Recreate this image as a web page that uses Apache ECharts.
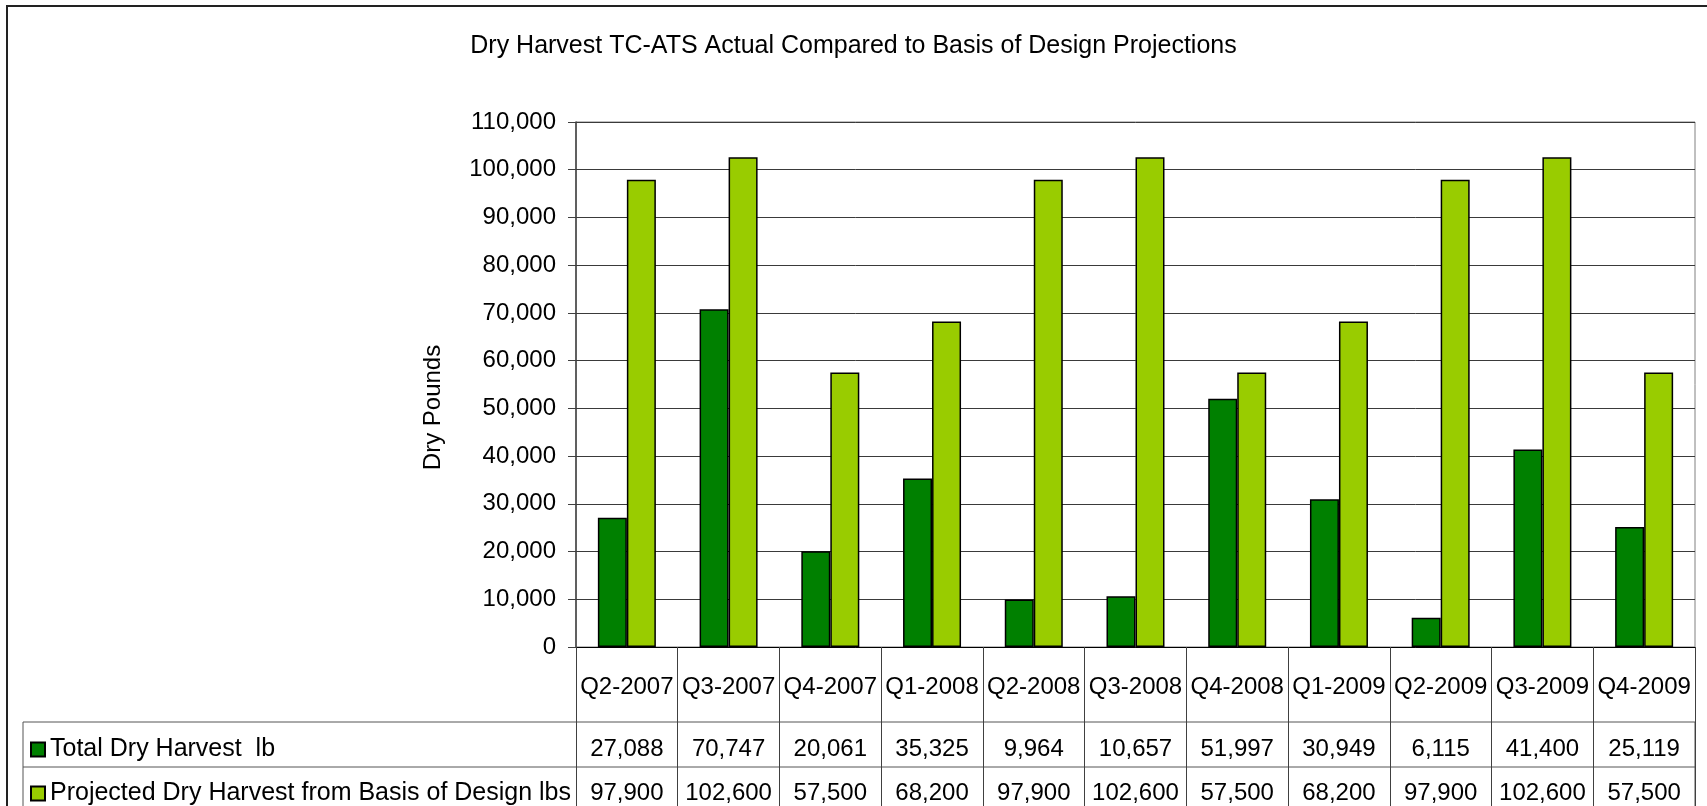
<!DOCTYPE html>
<html>
<head>
<meta charset="utf-8">
<title>Dry Harvest TC-ATS</title>
<script src="https://cdn.jsdelivr.net/npm/echarts@6/dist/echarts.min.js"></script>
<style>
  html, body { margin: 0; padding: 0; background: #fff; }
  #chart { width: 1707px; height: 806px; }
</style>
</head>
<body>
<div id="chart"></div>
<script>
  // quarters on the x axis
  const quarters = ['Q2-2007', 'Q3-2007', 'Q4-2007', 'Q1-2008', 'Q2-2008', 'Q3-2008',
    'Q4-2008', 'Q1-2009', 'Q2-2009', 'Q3-2009', 'Q4-2009'];
  // actual dry harvest, lb
  const actualHarvest = [27088, 70747, 20061, 35325, 9964, 10657, 51997, 30949, 6115, 41400, 25119];
  // basis of design projection, lbs
  const projectedHarvest = [97900, 102600, 57500, 68200, 97900, 102600, 57500, 68200, 97900, 102600, 57500];

  const actualName = 'Total Dry Harvest  lb';
  const projectedName = 'Projected Dry Harvest from Basis of Design lbs';

  const font = '"Liberation Sans", Arial, sans-serif';
  const fmt = (v) => v.toLocaleString('en-US');

  // one legend per table row, so each sits in front of its own row
  const rowLegend = (name, top) => ({
    orient: 'vertical',
    left: 25,
    top: top,
    itemWidth: 14,
    itemHeight: 14,
    icon: 'rect',
    selectedMode: false,
    textStyle: {
      fontFamily: font,
      fontSize: 25,
      lineHeight: 24,
      color: '#000',
    },
    data: [name],
  });

  const chart = echarts.init(document.getElementById('chart'));

  chart.setOption({
    animation: false,
    title: {
      text: 'Dry Harvest TC-ATS Actual Compared to Basis of Design Projections',
      left: 'center',
      top: 29,
      textStyle: {
        fontFamily: font,
        fontSize: 25,
        fontWeight: 'normal',
        color: '#000',
      },
    },
    legend: [
      rowLegend(actualName, 732),
      rowLegend(projectedName, 776),
    ],
    grid: {
      left: 576,
      right: 12,
      top: 122,
      bottom: 159,
      show: true,
      borderColor: '#808080',
      borderWidth: 1,
    },
    xAxis: {
      type: 'category',
      data: quarters,
      axisLine: {
        lineStyle: { color: '#000', width: 1 },
      },
      axisTick: {
        show: true,
        alignWithLabel: false,
        length: 170,
        lineStyle: { color: '#404040', width: 1 },
      },
      axisLabel: {
        margin: 0,
        interval: 0,
        formatter: (value, idx) => '{c|' + value + '}\n{v|' + fmt(actualHarvest[idx]) +
          '}\n{v|' + fmt(projectedHarvest[idx]) + '}',
        rich: {
          c: { fontFamily: font, fontSize: 24, lineHeight: 80, color: '#000' },
          v: { fontFamily: font, fontSize: 24, lineHeight: 44, color: '#000' },
        },
      },
    },
    yAxis: {
      type: 'value',
      min: 0,
      max: 110000,
      interval: 10000,
      name: 'Dry Pounds',
      nameLocation: 'middle',
      nameGap: 131,
      nameTextStyle: {
        fontFamily: font,
        fontSize: 24,
        color: '#000',
        padding: [0, 46, 0, 0],
      },
      axisLine: {
        show: true,
        lineStyle: { color: '#404040', width: 1.5 },
      },
      axisTick: {
        show: true,
        length: 8,
        lineStyle: { color: '#404040' },
      },
      axisLabel: {
        margin: 20,
        fontFamily: font,
        fontSize: 24,
        color: '#000',
        formatter: (v) => fmt(v),
      },
      splitLine: {
        lineStyle: { color: '#3a3a3a', width: 1 },
      },
    },
    series: [
      {
        name: actualName,
        type: 'bar',
        barWidth: 29,
        barGap: '0%',
        itemStyle: {
          color: '#008000',
          borderColor: '#000',
          borderWidth: 1.5,
        },
        data: actualHarvest,
      },
      {
        name: projectedName,
        type: 'bar',
        barWidth: 29,
        itemStyle: {
          color: '#99cc00',
          borderColor: '#000',
          borderWidth: 1.5,
        },
        data: projectedHarvest,
      },
    ],
    graphic: [
      // outer chart frame, runs off the right and bottom like the original
      {
        type: 'rect',
        silent: true,
        shape: { x: 7, y: 6, width: 1740, height: 840 },
        style: { fill: null, stroke: '#222', lineWidth: 2 },
      },
      // data table frame and row separator
      {
        type: 'rect',
        silent: true,
        shape: { x: 23, y: 722, width: 1672, height: 120 },
        style: { fill: null, stroke: '#555', lineWidth: 1 },
      },
      {
        type: 'line',
        silent: true,
        shape: { x1: 23, y1: 767, x2: 1695, y2: 767 },
        style: { stroke: '#555', lineWidth: 1 },
      },
    ],
  });
</script>
</body>
</html>
